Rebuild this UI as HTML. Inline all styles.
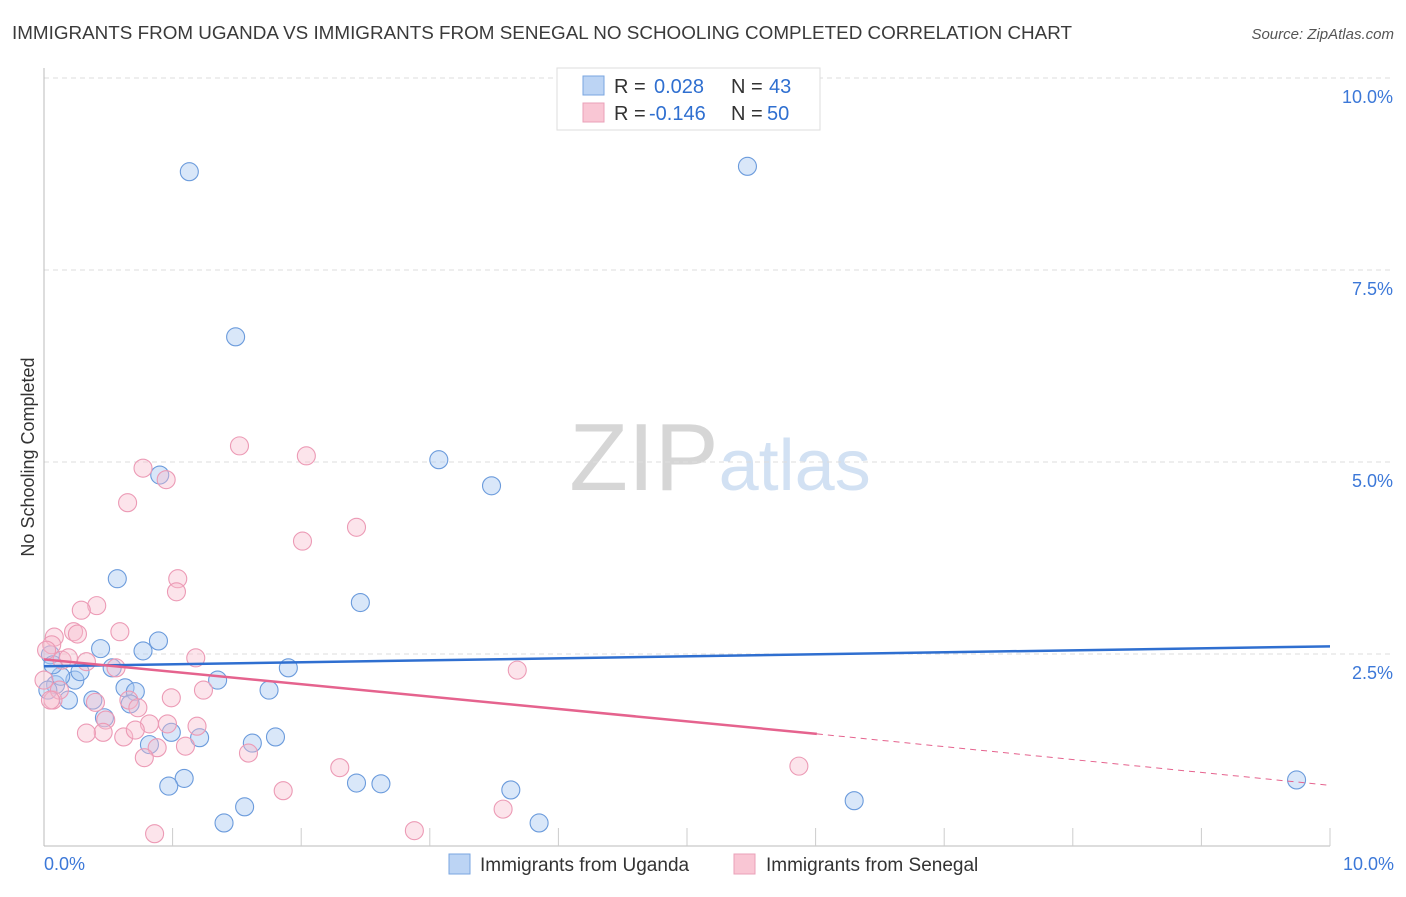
<!DOCTYPE html>
<html><head><meta charset="utf-8"><style>
body{margin:0;background:#fff;font-family:"Liberation Sans",sans-serif;}
svg text{font-family:"Liberation Sans",sans-serif;}
</style></head><body>
<svg id="chart" width="1406" height="892" xmlns="http://www.w3.org/2000/svg">
<text x="12" y="39" font-size="18" fill="#3a3a3a" textLength="1060" lengthAdjust="spacingAndGlyphs">IMMIGRANTS FROM UGANDA VS IMMIGRANTS FROM SENEGAL NO SCHOOLING COMPLETED CORRELATION CHART</text>
<text x="1394" y="39" font-size="15" fill="#555" text-anchor="end" font-style="italic">Source: ZipAtlas.com</text>
<text x="720" y="490" font-size="96" text-anchor="middle" fill="#ddd" font-family="Liberation Serif"><tspan fill="#d6d6d6">ZIP</tspan><tspan fill="#d2e1f3" font-family="Liberation Sans" font-size="72">atlas</tspan></text>
<g id="grid"></g>
<g id="axes"></g>
<g id="marks"></g>
<text transform="translate(34,457) rotate(-90)" font-size="18" fill="#333" text-anchor="middle">No Schooling Completed</text>
<g>
<rect x="557" y="68" width="263" height="62" fill="#fff" stroke="#ddd"/>
<rect x="583" y="76" width="21" height="19" fill="#bcd4f4" stroke="#7aa6e0"/>
<rect x="583" y="103" width="21" height="19" fill="#f9c6d4" stroke="#eaa0b8"/>
<text x="614" y="93" font-size="20" fill="#333">R =</text><text x="654" y="93" font-size="20" fill="#2f6fd0">0.028</text>
<text x="731" y="93" font-size="20" fill="#333">N =</text><text x="769" y="93" font-size="20" fill="#2f6fd0">43</text>
<text x="614" y="120" font-size="20" fill="#333">R =</text><text x="649" y="120" font-size="20" fill="#2f6fd0">-0.146</text>
<text x="731" y="120" font-size="20" fill="#333">N =</text><text x="767" y="120" font-size="20" fill="#2f6fd0">50</text>
</g>
<g>
<rect x="449" y="854" width="21" height="20" fill="#bcd4f4" stroke="#7aa6e0"/>
<text x="480" y="871" font-size="19" fill="#333">Immigrants from Uganda</text>
<rect x="734" y="854" width="21" height="20" fill="#f9c6d4" stroke="#eaa0b8"/>
<text x="766" y="871" font-size="19" fill="#333">Immigrants from Senegal</text>
</g>
</svg>
<script>
const yTicks=[2.5,5.0,7.5,10.0];
const yTickLabels=["2.5%","5.0%","7.5%","10.0%"];
const xTickLabels=["0.0%","10.0%"];
const ugX=[1.13,5.47,1.49,3.07,3.48,0.90,0.57,2.46,0.89,0.44,0.77,1.90,1.35,1.75,0.09,0.24,0.28,0.13,0.38,0.19,0.53,0.63,0.71,0.67,0.47,0.99,1.21,0.82,1.80,1.62,1.09,0.97,2.43,2.62,3.63,1.56,1.40,3.85,6.30,9.74,0.05,0.07,0.03];
const ugY=[8.78,8.85,6.63,5.03,4.69,4.83,3.48,3.17,2.67,2.57,2.54,2.32,2.16,2.03,2.10,2.16,2.27,2.21,1.90,1.90,2.32,2.06,2.01,1.85,1.67,1.48,1.41,1.32,1.42,1.34,0.88,0.78,0.82,0.81,0.73,0.51,0.30,0.30,0.59,0.86,2.49,2.36,2.03];
const snX=[0.77,1.52,2.04,0.95,0.65,2.01,2.43,1.04,1.03,0.41,0.29,0.59,0.23,0.26,0.08,0.06,0.14,0.19,0.33,0.56,1.18,3.68,1.24,0.99,0.07,0.40,0.66,0.73,0.48,0.82,0.96,1.19,0.46,0.33,0.62,0.71,0.88,1.10,1.59,0.78,2.30,1.86,5.87,3.57,2.88,0.86,0.02,0.12,0.00,0.05];
const snY=[4.92,5.21,5.08,4.77,4.47,3.97,4.15,3.48,3.31,3.13,3.07,2.79,2.79,2.76,2.72,2.62,2.42,2.45,2.40,2.32,2.45,2.29,2.03,1.93,1.90,1.87,1.90,1.80,1.64,1.59,1.59,1.56,1.48,1.47,1.42,1.51,1.28,1.30,1.21,1.15,1.02,0.72,1.04,0.48,0.20,0.16,2.55,2.03,2.16,1.90];
const ugTrend=[2.34,2.60];
const snTrend=[2.43,1.46,0.79];
const snTrendX=[0,6.01,10];
const NS="http://www.w3.org/2000/svg";
const X=v=>44+v*128.6, Y=v=>846-v*76.8;
function mk(t,a,p){const e=document.createElementNS(NS,t);for(const k in a)e.setAttribute(k,a[k]);p.appendChild(e);return e;}
const grid=document.getElementById('grid'),axes=document.getElementById('axes'),marks=document.getElementById('marks');
yTicks.forEach((v,i)=>{
 const l=mk('line',{x1:44,x2:1394,y1:Y(v),y2:Y(v),stroke:'#ddd','stroke-dasharray':'5,4'},grid);
 
 
 const t=mk('text',{x:1393,y:Y(v)+25,'font-size':18,fill:'#3c78d8','text-anchor':'end'},axes);
 t.textContent=yTickLabels[i];
 
 
});
let a=mk('line',{x1:44,x2:44,y1:68,y2:846,stroke:'#bbb'},axes);


a=mk('line',{x1:44,x2:1330,y1:846,y2:846,stroke:'#bbb'},axes);


for(let i=1;i<=10;i++){const tk=mk('line',{x1:X(i),x2:X(i),y1:828,y2:846,stroke:'#ccc'},axes);
 
 }
[[0,'start',44],[10,'end',1394]].forEach((d,i)=>{const t=mk('text',{x:d[2],y:870,'font-size':18,fill:'#3c78d8','text-anchor':d[1]},axes);t.textContent=xTickLabels[i];
 
 });
ugX.forEach((x,i)=>{const c=mk('circle',{cx:X(x),cy:Y(ugY[i]),r:9,fill:'rgba(170,202,242,0.45)',stroke:'#6b9bdc','stroke-width':1.1},marks);
 
 });
snX.forEach((x,i)=>{const c=mk('circle',{cx:X(x),cy:Y(snY[i]),r:9,fill:'rgba(247,188,206,0.4)',stroke:'#ec9ab5','stroke-width':1.1},marks);
 
 });
let ln=mk('line',{x1:X(0),y1:Y(ugTrend[0]),x2:X(10),y2:Y(ugTrend[1]),stroke:'#2f6fd0','stroke-width':2.5},marks);


ln=mk('line',{x1:X(snTrendX[0]),y1:Y(snTrend[0]),x2:X(snTrendX[1]),y2:Y(snTrend[1]),stroke:'#e5638e','stroke-width':2.5},marks);


ln=mk('line',{x1:X(snTrendX[1]),y1:Y(snTrend[1]),x2:X(snTrendX[2]),y2:Y(snTrend[2]),stroke:'#e5638e','stroke-width':1,'stroke-dasharray':'6,5'},marks);


</script>
</body></html>
